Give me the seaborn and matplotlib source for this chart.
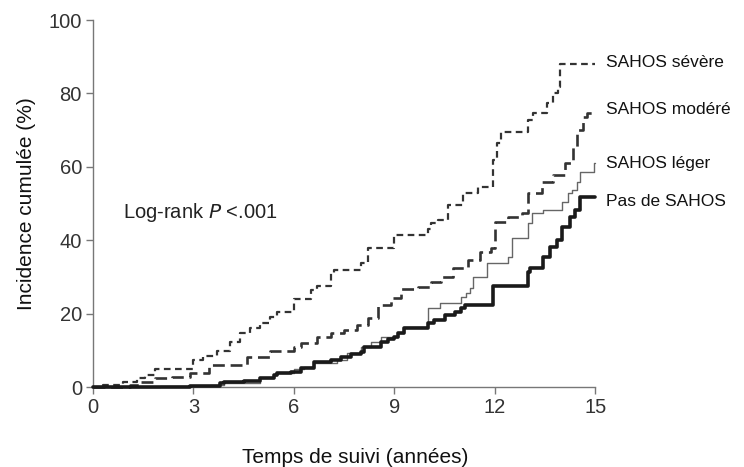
import seaborn as sns
import numpy as np
import matplotlib
matplotlib.use("Agg")
import matplotlib.pyplot as plt
import pandas as pd

# Step curves (time in years, cumulative incidence in %)
t_severe = [0, 0.3, 0.9, 1.3, 1.55, 1.85, 3.0, 3.3, 3.7, 4.1, 4.4, 4.7, 5.0, 5.3, 5.5,
            6.0, 6.5, 6.7, 7.1, 7.2, 8.0, 8.2, 9.0, 10.0, 10.1, 10.3, 10.6, 11.05, 11.5,
            11.95, 12.07, 12.2, 13.0, 13.15, 13.56, 13.75, 13.9, 13.95, 15]
v_severe = [0, 0.5, 1.4, 2.5, 3.3, 4.9, 7.4, 8.4, 9.8, 12.3, 14.7, 16.0, 17.4, 19.0, 20.4,
            24.0, 26.4, 27.5, 31.0, 32.0, 33.8, 38.0, 41.4, 43.0, 44.6, 45.5, 49.6, 52.9, 54.5,
            62.0, 66.5, 69.5, 72.7, 74.6, 77.4, 80.0, 81.7, 88.0, 88.0]

t_moderate = [0, 1.1, 1.4, 1.85, 2.36, 2.9, 3.45, 4.6, 5.3, 6.0, 6.2, 6.7, 7.1, 7.5, 7.9,
              8.2, 8.5, 8.9, 9.2, 9.7, 10.1, 10.4, 10.75, 11.2, 11.56, 11.9, 12.0, 12.4,
              12.8, 13.0, 13.4, 13.75, 14.1, 14.35, 14.45, 14.65, 14.75, 15]
v_moderate = [0, 0.5, 1.4, 2.4, 2.8, 3.8, 6.0, 8.2, 9.8, 11.0, 12.0, 13.6, 14.7, 15.5, 16.9,
              18.8, 22.3, 24.2, 26.7, 27.3, 28.6, 30.0, 32.4, 34.6, 36.8, 37.9, 45.0, 46.3,
              47.4, 53.0, 55.9, 57.8, 61.0, 65.4, 70.0, 73.6, 74.7, 74.7]

t_mild = [0, 2.0, 3.5, 3.9, 5.0, 5.4, 5.5, 6.0, 6.3, 6.6, 7.3, 7.6, 8.0, 8.3, 8.6, 9.1,
          9.3, 10.0, 10.35, 11.0, 11.15, 11.26, 11.35, 11.77, 12.4, 12.5, 13.0, 13.1,
          13.45, 14.0, 14.2, 14.3, 14.45, 14.55, 14.95, 15]
v_mild = [0, 0.3, 0.7, 1.2, 2.4, 3.3, 3.8, 5.0, 5.5, 6.5, 7.4, 9.3, 10.9, 12.3, 13.6, 14.7,
          16.5, 21.5, 23.0, 24.5, 25.6, 27.0, 30.0, 33.8, 35.4, 40.6, 44.7, 47.4,
          48.2, 50.4, 52.9, 53.7, 55.9, 58.6, 61.0, 61.0]

t_none = [0, 2.9, 3.8, 3.9, 4.5, 5.0, 5.4, 5.5, 5.9, 6.2, 6.6, 7.1, 7.4, 7.7, 8.0, 8.1,
          8.6, 8.8, 9.0, 9.1, 9.3, 10.0, 10.2, 10.5, 10.8, 11.0, 11.1, 11.96, 13.0, 13.05,
          13.45, 13.65, 13.85, 14.0, 14.25, 14.4, 14.55, 15]
v_none = [0, 0.4, 1.0, 1.4, 1.8, 2.4, 3.3, 3.8, 4.1, 5.1, 6.8, 7.4, 8.2, 9.0, 9.5, 10.9,
          12.3, 13.0, 13.6, 14.7, 16.2, 17.4, 18.3, 19.6, 20.4, 21.5, 22.3, 27.5, 31.3, 32.4,
          35.4, 38.1, 40.0, 43.6, 46.3, 48.2, 51.8, 51.8]

groups = ['SAHOS sévère', 'SAHOS modéré', 'SAHOS léger', 'Pas de SAHOS']
times = [t_severe, t_moderate, t_mild, t_none]
values = [v_severe, v_moderate, v_mild, v_none]
# the end labels are nudged a little from the curve ends, as in the original
label_nudge = [0.5, 0.9, 0.0, -1.1]

frames = []
for g, t, v in zip(groups, times, values):
    frames.append(pd.DataFrame({'Temps': t, 'Incidence': v, 'Groupe': g}))
df = pd.concat(frames, ignore_index=True)

styles = {
    'SAHOS sévère': dict(color='#333333', lw=1.6, dashes=(3.0, 2.0)),
    'SAHOS modéré': dict(color='#333333', lw=1.9, dashes=(4.5, 2.2)),
    'SAHOS léger': dict(color='#666666', lw=1.0, dashes=None),
    'Pas de SAHOS': dict(color='#1a1a1a', lw=2.6, dashes=None),
}

sns.set_style('white')
plt.rcParams['font.family'] = ['Liberation Sans', 'DejaVu Sans']

fig = plt.figure(figsize=(7.44, 4.67), dpi=100)
ax = fig.add_axes([0.125, 0.171, 0.675, 0.786])

for g, nudge in zip(groups, label_nudge):
    st = styles[g]
    sub = df[df['Groupe'] == g]
    sns.lineplot(data=sub, x='Temps', y='Incidence', ax=ax, estimator=None,
                 sort=False, drawstyle='steps-post', color=st['color'],
                 lw=st['lw'], clip_on=False, zorder=3)
    l = ax.lines[-1]
    if st['dashes'] is not None:
        l.set_dashes(st['dashes'])
    # label at the right end of each curve
    ax.text(15.33, sub['Incidence'].iloc[-1] + nudge, g, fontsize=12.5, va='center',
            ha='left', color='#111111')

ax.set_xlim(0, 15)
ax.set_ylim(0, 100)
ax.set_xticks([0, 3, 6, 9, 12, 15])
ax.set_yticks([0, 20, 40, 60, 80, 100])
ax.tick_params(axis='both', direction='out', length=5, width=1, color='#777777',
               labelsize=14.5, labelcolor='#333333', pad=3, left=True, bottom=True)
for side in ['top', 'right']:
    ax.spines[side].set_visible(False)
for side in ['left', 'bottom']:
    ax.spines[side].set_color('#777777')
    ax.spines[side].set_linewidth(1)

ax.set_xlabel('Temps de suivi (années)', fontsize=15, labelpad=22, color='#111111')
ax.xaxis.label.set_x(0.522)
ax.set_ylabel('Incidence cumulée (%)', fontsize=15, labelpad=9, color='#111111')

ax.text(0.9, 47.5, 'Log-rank $\\it{P}$ <.001', fontsize=14.5, va='center', ha='left',
        color='#222222')

fig.savefig('out.png', dpi=100)
